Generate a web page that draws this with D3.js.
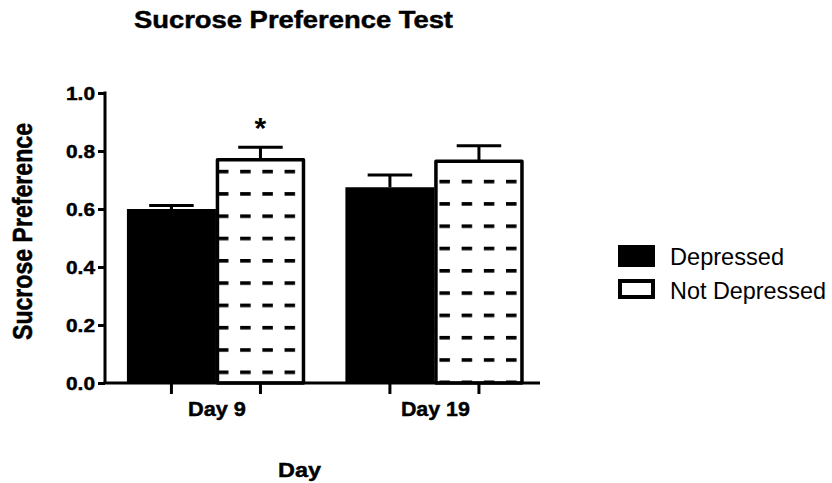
<!DOCTYPE html>
<html>
<head>
<meta charset="utf-8">
<script src="https://cdn.jsdelivr.net/npm/d3@7"></script>
<style>
  html, body { margin: 0; padding: 0; background: #fff; }
  svg { display: block; font-family: "Liberation Sans", Arial, Helvetica, sans-serif; }
  .heavy { stroke: #000; stroke-width: 0.45px; paint-order: stroke; }
</style>
</head>
<body>
<svg id="chart" width="832" height="483"></svg>
<script>
// ---- data ----
const days = ["Day 9", "Day 19"];
const seriesNames = ["Depressed", "Not Depressed"];
const depressedMeans = [0.600, 0.675];
const depressedErrs = [0.012, 0.042];
const notDepressedMeans = [0.770, 0.765];
const notDepressedErrs = [0.043, 0.053];
const yTicks = [0.0, 0.2, 0.4, 0.6, 0.8, 1.0];
const significance = ["*", ""]; // over Not Depressed bars

const titleText = "Sucrose Preference Test";
const yLabel = "Sucrose Preference";
const xLabel = "Day";

// ---- layout ----
const svg = d3.select("#chart");
const axisX = 105, axisBottom = 383, axisTop = 93, axisRight = 540;

const y = d3.scaleLinear().domain([0, 1]).range([axisBottom, axisTop]);
const x0 = d3.scaleBand().domain(days).range([axisX, axisRight])
  .paddingInner(0.185).paddingOuter(0.088).align(0.57);
const x1 = d3.scaleBand().domain(seriesNames).range([0, x0.bandwidth()]);

const rows = days.map((d, i) => ({
  day: d,
  values: [
    { series: seriesNames[0], mean: depressedMeans[i], err: depressedErrs[i] },
    { series: seriesNames[1], mean: notDepressedMeans[i], err: notDepressedErrs[i], sig: significance[i] }
  ]
}));

// patterns (horizontal dashes), phase per bar
const phase = [{ dx: 2, dy: 10.7 }, { dx: 5, dy: 0.7 }];
const defs = svg.append("defs");
rows.forEach((r, i) => {
  const left = x0(r.day) + x1(seriesNames[1]);
  const p = defs.append("pattern")
    .attr("id", "dash" + i)
    .attr("patternUnits", "userSpaceOnUse")
    .attr("x", left + phase[i].dx)
    .attr("y", axisBottom - phase[i].dy - 1.8)
    .attr("width", 22.2)
    .attr("height", 22.3);
  p.append("rect").attr("x", 0).attr("y", 0).attr("width", 10.5).attr("height", 3.6).attr("fill", "#000");
});

// ---- bars ----
const g = svg.append("g");
rows.forEach((r, i) => {
  const gx = x0(r.day);
  r.values.forEach((v, j) => {
    const bx = gx + x1(v.series), bw = x1.bandwidth();
    const top = y(v.mean);
    const cx = bx + bw / 2;
    // error bar
    g.append("line").attr("x1", cx).attr("x2", cx).attr("y1", top).attr("y2", y(v.mean + v.err))
      .attr("stroke", "#000").attr("stroke-width", 3);
    g.append("line").attr("x1", cx - bw / 4).attr("x2", cx + bw / 4)
      .attr("y1", y(v.mean + v.err)).attr("y2", y(v.mean + v.err))
      .attr("stroke", "#000").attr("stroke-width", 3);
    if (j === 0) {
      g.append("rect").attr("x", bx).attr("y", top).attr("width", bw).attr("height", axisBottom - top)
        .attr("fill", "#000");
    } else {
      g.append("rect").attr("x", bx + 1.5).attr("y", top).attr("width", bw - 3).attr("height", axisBottom - top)
        .attr("fill", "#fff");
      g.append("rect").attr("x", bx + 1.5).attr("y", top).attr("width", bw - 3).attr("height", axisBottom - top)
        .attr("fill", "url(#dash" + i + ")");
      g.append("rect").attr("x", bx + 1.5).attr("y", top).attr("width", bw - 3).attr("height", axisBottom - top)
        .attr("fill", "none").attr("stroke", "#000").attr("stroke-width", 3.5).attr("stroke-linejoin", "round");
      if (v.sig) {
        g.append("text").attr("x", cx).attr("y", y(v.mean + v.err) - 9)
          .attr("text-anchor", "middle").attr("font-size", 30).attr("font-weight", "bold")
          .text(v.sig);
      }
    }
  });
});

// ---- axes ----
const yAxis = d3.axisLeft(y).tickValues(yTicks).tickFormat(d3.format(".1f")).tickSize(7).tickPadding(3);
const ya = svg.append("g").attr("transform", `translate(${axisX},0)`).call(yAxis);
ya.select(".domain").attr("stroke-width", 3).attr("d", `M0,${axisTop - 1.5}V${axisBottom}`);
ya.selectAll(".tick line").attr("stroke-width", 3);
ya.selectAll(".tick text").attr("font-size", 18).attr("font-weight", "bold")
  .attr("font-family", "'Liberation Sans', Arial, sans-serif").attr("fill", "#000")
  .attr("class", "heavy")
  .attr("textLength", 29).attr("lengthAdjust", "spacingAndGlyphs").attr("dy", "0.36em");

// x axis line
svg.append("line").attr("x1", axisX - 1.5).attr("x2", axisRight).attr("y1", axisBottom).attr("y2", axisBottom)
  .attr("stroke", "#000").attr("stroke-width", 3);
// x ticks at bar centres
rows.forEach(r => {
  seriesNames.forEach(s => {
    const cx = x0(r.day) + x1(s) + x1.bandwidth() / 2;
    svg.append("line").attr("x1", cx).attr("x2", cx).attr("y1", axisBottom).attr("y2", axisBottom + 11)
      .attr("stroke", "#000").attr("stroke-width", 3);
  });
});
const dayLen = { "Day 9": 58, "Day 19": 69 };
days.forEach(d => {
  svg.append("text").attr("x", x0(d) + x0.bandwidth() / 2 + 1).attr("y", 416)
    .attr("text-anchor", "middle").attr("font-size", 20).attr("font-weight", "bold")
    .attr("class", "heavy")
    .attr("textLength", dayLen[d]).attr("lengthAdjust", "spacingAndGlyphs")
    .text(d);
});

// ---- titles ----
svg.append("text").attr("x", 134).attr("y", 28).attr("font-size", 23).attr("font-weight", "bold")
  .attr("class", "heavy")
  .attr("textLength", 319).attr("lengthAdjust", "spacingAndGlyphs").text(titleText);
svg.append("text").attr("x", 299.5).attr("y", 477).attr("text-anchor", "middle")
  .attr("font-size", 21).attr("font-weight", "bold").attr("class", "heavy")
  .attr("textLength", 43).attr("lengthAdjust", "spacingAndGlyphs").text(xLabel);
svg.append("text").attr("transform", "translate(32,231.5) scale(1.25,1) rotate(-90)")
  .attr("text-anchor", "middle").attr("font-size", 22).attr("font-weight", "bold")
  .attr("class", "heavy")
  .attr("textLength", 217).attr("lengthAdjust", "spacingAndGlyphs").text(yLabel);

// ---- legend ----
const legY = [245, 279];
const legLen = [114, 156];
seriesNames.forEach((s, i) => {
  if (i === 0) {
    svg.append("rect").attr("x", 618).attr("y", legY[i]).attr("width", 37).attr("height", 22).attr("fill", "#000");
  } else {
    svg.append("rect").attr("x", 620).attr("y", legY[i] + 2).attr("width", 33).attr("height", 16)
      .attr("fill", "#fff").attr("stroke", "#000").attr("stroke-width", 4);
  }
  svg.append("text").attr("x", 670).attr("y", legY[i] + 20).attr("font-size", 24)
    .attr("textLength", legLen[i]).attr("lengthAdjust", "spacingAndGlyphs").text(s);
});
</script>
</body>
</html>
